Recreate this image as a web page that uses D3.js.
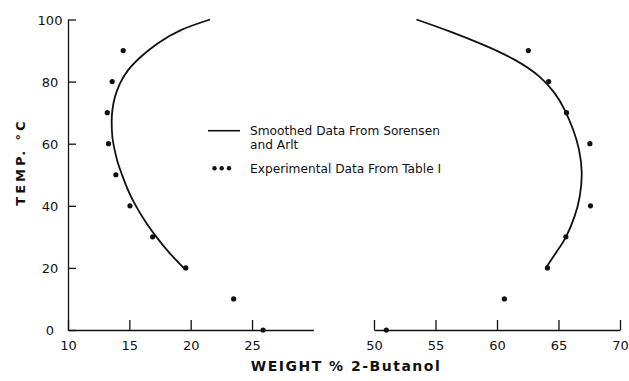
<!DOCTYPE html>
<html><head><meta charset="utf-8">
<script src="https://cdn.jsdelivr.net/npm/d3@7"></script>
<style>
html,body{margin:0;padding:0;background:#fff;}
svg{display:block;}
text{font-family:"DejaVu Sans",sans-serif;fill:#111;}
</style></head><body>
<svg id="c" width="629" height="381"></svg>
<script>
// ---- data ----
const yTicks = [0, 20, 40, 60, 80, 100];
const xTicksLeft = [10, 15, 20, 25];
const xTicksRight = [50, 55, 60, 65, 70];

// experimental points (temperature °C, weight % 2-butanol)
const expTemp   = [90, 80, 70, 60, 50, 40, 30, 20, 10, 0];
const expLeftX  = [14.5, 13.6, 13.2, 13.3, 13.9, 15.05, 16.9, 19.6, 23.5, 25.9];
const expTempR  = [90, 80, 70, 60, 40, 30, 20, 10, 0];
const expRightX = [62.55, 64.2, 65.65, 67.55, 67.6, 65.6, 64.1, 60.6, 51.0];

// smoothed curves (Sorensen and Arlt)
const smLeftT  = [100, 96.6, 92.3, 88, 83.7, 79.4, 75.1, 70.9, 67, 62, 58, 54, 50, 45, 39.5, 34.4, 30, 24.7, 19.6];
const smLeftX  = [21.58, 19.2, 17.3, 15.94, 14.9, 14.24, 13.83, 13.62, 13.56, 13.62, 13.8, 14.05, 14.4, 14.9, 15.6, 16.4, 17.2, 18.3, 19.53];
const smRightT = [100, 96.1, 91.9, 87, 81.6, 76.2, 70.9, 64.4, 58, 50.5, 42.9, 36.5, 30, 25.2, 20.4];
const smRightX = [53.45, 56.2, 58.85, 61.45, 63.45, 64.7, 65.5, 66.2, 66.67, 66.89, 66.72, 66.3, 65.61, 64.85, 64.04];

const legendLabels = ["Smoothed Data From Sorensen", "and Arlt", "Experimental Data From Table I"];

// ---- scales ----
const svg = d3.select("#c");
const y  = d3.scaleLinear().domain([0, 100]).range([330, 19.5]);
const xL = d3.scaleLinear().domain([10, 30]).range([68, 313.4]);
const xR = d3.scaleLinear().domain([50, 70]).range([374, 620]);
const ink = "#111";

// ---- axes ----
const yAxis = d3.axisLeft(y).tickValues(yTicks).tickSize(-8).tickSizeOuter(0).tickPadding(18);
const gy = svg.append("g").attr("transform", "translate(68,0)").call(yAxis);
gy.selectAll("text").attr("text-anchor", "middle").attr("x", -18).attr("dy", "0.36em")
  .style("font-size", "13px").style("font-family", '"DejaVu Sans",sans-serif').attr("fill", ink);

const gxL = svg.append("g").attr("transform", "translate(0,330)")
  .call(d3.axisBottom(xL).tickValues(xTicksLeft).tickSize(-10).tickSizeOuter(0).tickPadding(11));
const gxR = svg.append("g").attr("transform", "translate(0,330)")
  .call(d3.axisBottom(xR).tickValues(xTicksRight).tickSize(-10).tickSizeOuter(0).tickPadding(11));
[gxL, gxR].forEach(g => g.selectAll("text").style("font-size", "13px")
  .style("font-family", '"DejaVu Sans",sans-serif').attr("fill", ink));
[gy, gxL, gxR].forEach(g => {
  g.selectAll("path,line").attr("stroke", ink).attr("stroke-width", 1.3);
});

// ---- curves ----
const lineL = d3.line().x((d) => xL(d[1])).y((d) => y(d[0])).curve(d3.curveNatural);
const lineR = d3.line().x((d) => xR(d[1])).y((d) => y(d[0])).curve(d3.curveNatural);
svg.append("path").datum(smLeftT.map((t, i) => [t, smLeftX[i]]))
  .attr("d", lineL).attr("fill", "none").attr("stroke", ink).attr("stroke-width", 1.8);
svg.append("path").datum(smRightT.map((t, i) => [t, smRightX[i]]))
  .attr("d", lineR).attr("fill", "none").attr("stroke", ink).attr("stroke-width", 1.8);

// ---- points ----
svg.append("g").selectAll("circle").data(expTemp.map((t, i) => [t, expLeftX[i]])).join("circle")
  .attr("cx", (d) => xL(d[1])).attr("cy", (d) => y(d[0])).attr("r", 2.6).attr("fill", ink);
svg.append("g").selectAll("circle").data(expTempR.map((t, i) => [t, expRightX[i]])).join("circle")
  .attr("cx", (d) => xR(d[1])).attr("cy", (d) => y(d[0])).attr("r", 2.6).attr("fill", ink);

// ---- legend ----
const lg = svg.append("g");
lg.append("line").attr("x1", 208).attr("x2", 240).attr("y1", 130.7).attr("y2", 130.7)
  .attr("stroke", ink).attr("stroke-width", 1.6);
lg.append("text").attr("x", 250).attr("y", 135).style("font-size", "12.2px").text(legendLabels[0]);
lg.append("text").attr("x", 250).attr("y", 149).style("font-size", "12.2px").text(legendLabels[1]);
[214.5, 221.7, 229].forEach(cx => lg.append("circle").attr("cx", cx).attr("cy", 168.3).attr("r", 2.2).attr("fill", ink));
lg.append("text").attr("x", 250).attr("y", 172.5).style("font-size", "12.2px").text(legendLabels[2]);

// ---- axis titles ----
svg.append("text").attr("transform", "translate(25,162) rotate(-90)")
  .attr("text-anchor", "middle").style("font-size", "13px").style("font-weight", "bold")
  .style("letter-spacing", "3px").text("TEMP. °C");
svg.append("text").attr("x", 346).attr("y", 371)
  .attr("text-anchor", "middle").style("font-size", "14px").style("font-weight", "bold")
  .style("letter-spacing", "1.5px").text("WEIGHT % 2-Butanol");
</script>
</body></html>
